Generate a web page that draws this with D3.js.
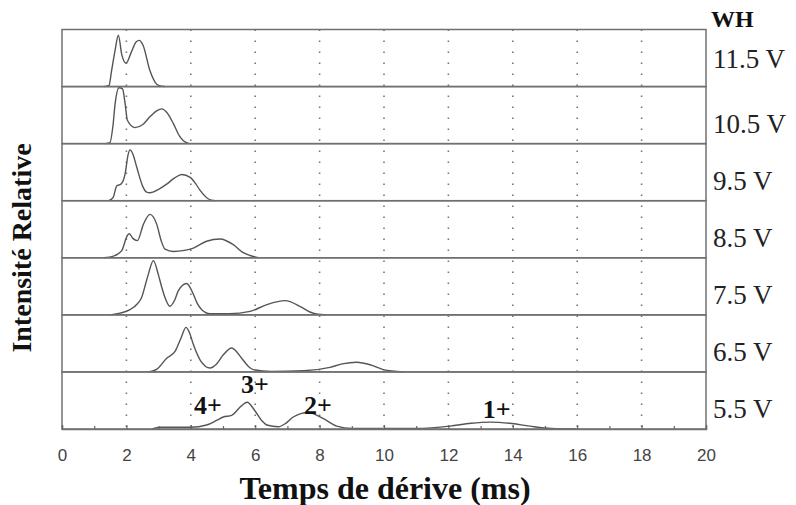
<!DOCTYPE html>
<html lang="fr">
<head>
<meta charset="utf-8">
<title>Temps de dérive - WH</title>
<script src="https://cdn.jsdelivr.net/npm/d3@7"></script>
<style>
  body { margin: 0; background: #fff; }
  svg { display: block; }
</style>
</head>
<body>
<script>
// panel labels, top to bottom
var voltages = ["11.5 V", "10.5 V", "9.5 V", "8.5 V", "7.5 V", "6.5 V", "5.5 V"];

// traces: [drift time (ms), relative intensity (0..1 of panel)]
var trace115 = [[1.3,0],[1.46,0.02],[1.54,0.28],[1.65,0.64],[1.75,0.9],[1.86,0.55],[1.99,0.41],[2.15,0.6],[2.3,0.78],[2.4,0.81],[2.52,0.72],[2.73,0.28],[2.9,0.07],[3.0,0.02],[3.2,0]];
var trace105 = [[1.35,0],[1.49,0.02],[1.58,0.3],[1.65,0.7],[1.77,0.98],[1.88,0.96],[1.96,0.7],[2.03,0.41],[2.27,0.28],[2.5,0.33],[2.73,0.47],[2.95,0.58],[3.1,0.61],[3.25,0.55],[3.46,0.35],[3.65,0.13],[3.77,0.05],[3.95,0]];
var trace95 = [[1.45,0],[1.59,0.06],[1.7,0.26],[1.83,0.29],[1.96,0.47],[2.05,0.8],[2.11,0.89],[2.2,0.82],[2.32,0.59],[2.5,0.26],[2.63,0.15],[2.73,0.14],[3.0,0.2],[3.25,0.29],[3.5,0.4],[3.72,0.46],[3.98,0.41],[4.15,0.3],[4.29,0.18],[4.55,0.03],[4.75,0]];
var trace85 = [[1.3,0],[1.6,0.03],[1.85,0.12],[2.03,0.39],[2.09,0.42],[2.2,0.34],[2.34,0.3],[2.53,0.59],[2.73,0.76],[2.94,0.59],[3.08,0.3],[3.2,0.15],[3.46,0.11],[3.8,0.13],[4.08,0.17],[4.49,0.29],[4.91,0.33],[5.32,0.23],[5.6,0.1],[5.84,0.04],[6.1,0]];
var trace75 = [[1.5,0],[1.8,0.03],[2.11,0.09],[2.35,0.2],[2.47,0.3],[2.6,0.55],[2.68,0.71],[2.84,0.95],[2.99,0.71],[3.1,0.48],[3.2,0.3],[3.35,0.15],[3.5,0.26],[3.61,0.42],[3.87,0.55],[4.08,0.36],[4.2,0.2],[4.34,0.09],[4.6,0.02],[5.2,0.02],[5.84,0.06],[6.36,0.18],[6.93,0.25],[7.39,0.15],[7.7,0.05],[7.95,0.01],[8.2,0]];
var trace65 = [[2.7,0],[2.95,0.05],[3.25,0.24],[3.51,0.36],[3.7,0.6],[3.85,0.78],[3.95,0.7],[4.08,0.48],[4.3,0.2],[4.6,0.07],[4.8,0.14],[5.01,0.3],[5.27,0.42],[5.58,0.24],[5.8,0.09],[5.94,0.04],[6.5,0.01],[7.5,0.02],[8.32,0.08],[8.7,0.14],[9.15,0.17],[9.6,0.12],[9.98,0.04],[10.6,0]];
var trace55 = [[2.8,0],[3.04,0.03],[4.0,0.03],[4.49,0.07],[4.8,0.15],[5.01,0.21],[5.27,0.24],[5.58,0.41],[5.75,0.47],[5.99,0.32],[6.2,0.15],[6.36,0.07],[6.72,0.04],[6.95,0.1],[7.18,0.21],[7.65,0.29],[8.12,0.18],[8.53,0.05],[9.0,0.01],[11.0,0.01],[12.05,0.05],[12.7,0.1],[13.29,0.12],[13.9,0.1],[14.53,0.05],[15.2,0.01],[16,0]];
var traces = [trace115, trace105, trace95, trace85, trace75, trace65, trace55];

// charge state labels [time, intensity, text] in the 5.5 V panel
var charges = [[4.53, 0.26, "4+"], [5.99, 0.63, "3+"], [7.95, 0.26, "2+"], [13.5, 0.19, "1+"]];

var majorTicks = [0, 2, 4, 6, 8, 10, 12, 14, 16, 18, 20];
var minorTicks = [1, 3, 5, 7, 9, 11, 13, 15, 17, 19];
var gridTicks = [2, 4, 6, 8, 10, 12, 14, 16, 18];

var w = 796, h = 505;
var plotLeft = 62, plotRight = 706, plotTop = 29.5, plotBottom = 429;

var svg = d3.select("body").append("svg")
  .attr("width", w)
  .attr("height", h);

var x = d3.scaleLinear().domain([0, 20]).range([plotLeft, plotRight]);
var panel = d3.scaleBand().domain(voltages).range([plotTop, plotBottom]);
var yInt = d3.scaleLinear().domain([0, 1]).range([panel.bandwidth(), 0]);

// dotted grid
svg.append("g").selectAll("line")
  .data(gridTicks)
  .enter().append("line")
  .attr("x1", function(d) { return x(d); })
  .attr("x2", function(d) { return x(d); })
  .attr("y1", plotTop)
  .attr("y2", plotBottom)
  .style("stroke", "#777")
  .style("stroke-width", 1.6)
  .style("stroke-dasharray", "1.6,9.4");

// panels
var line = d3.line()
  .x(function(d) { return x(d[0]); })
  .y(function(d) { return yInt(d[1]); })
  .curve(d3.curveMonotoneX);

var panels = svg.selectAll("g.panel")
  .data(voltages)
  .enter().append("g")
  .attr("class", "panel")
  .attr("transform", function(d) { return "translate(0," + panel(d) + ")"; });

panels.append("path")
  .attr("d", function(d, i) { return line(traces[i]); })
  .style("fill", "none")
  .style("stroke", "#555")
  .style("stroke-width", 1.4);

panels.append("rect")
  .attr("x", plotLeft)
  .attr("y", 0)
  .attr("width", plotRight - plotLeft)
  .attr("height", panel.bandwidth())
  .style("fill", "none")
  .style("stroke", "#707070")
  .style("stroke-width", 1.5);

panels.append("text")
  .attr("x", 713)
  .attr("y", function(d, i) { return panel.bandwidth() / 2 + (i == 0 ? 1 : 8); })
  .attr("dy", "0.35em")
  .style("font-family", "'Liberation Serif', serif")
  .style("font-size", "27px")
  .style("fill", "#222")
  .text(function(d) { return d; });

svg.append("text")
  .attr("x", 711)
  .attr("y", 27)
  .style("font-family", "'Liberation Serif', serif")
  .style("font-weight", "bold")
  .style("font-size", "24px")
  .style("fill", "#111")
  .text("WH");

// charge states
var lastPanel = svg.append("g")
  .attr("transform", "translate(0," + panel("5.5 V") + ")");
lastPanel.selectAll("text")
  .data(charges)
  .enter().append("text")
  .attr("x", function(d) { return x(d[0]); })
  .attr("y", function(d) { return yInt(d[1]); })
  .attr("text-anchor", "middle")
  .style("font-family", "'Liberation Serif', serif")
  .style("font-weight", "bold")
  .style("font-size", "26px")
  .style("fill", "#111")
  .text(function(d) { return d[2]; });

// x axis
var axisMajor = d3.axisBottom(x).tickValues(majorTicks).tickSize(-4).tickPadding(20);
var axisMinor = d3.axisBottom(x).tickValues(minorTicks).tickSize(-3).tickFormat("");

var gx = svg.append("g").attr("transform", "translate(0," + plotBottom + ")").call(axisMajor);
var gm = svg.append("g").attr("transform", "translate(0," + plotBottom + ")").call(axisMinor);
gx.select(".domain").style("stroke", "#707070").style("stroke-width", 1.5);
gm.select(".domain").remove();
svg.selectAll(".tick line").style("stroke", "#666").style("stroke-width", 1.2);
gx.selectAll("text")
  .style("font-family", "'Liberation Sans', Arial, sans-serif")
  .style("font-size", "17px")
  .style("fill", "#444");

// titles
svg.append("text")
  .attr("x", 385)
  .attr("y", 499)
  .attr("text-anchor", "middle")
  .style("font-family", "'Liberation Serif', serif")
  .style("font-weight", "bold")
  .style("font-size", "32px")
  .style("fill", "#111")
  .text("Temps de dérive (ms)");

svg.append("text")
  .attr("transform", "translate(31,248) rotate(-90)")
  .attr("text-anchor", "middle")
  .style("font-family", "'Liberation Serif', serif")
  .style("font-weight", "bold")
  .style("font-size", "28px")
  .style("fill", "#111")
  .text("Intensité Relative");
</script>
</body>
</html>
